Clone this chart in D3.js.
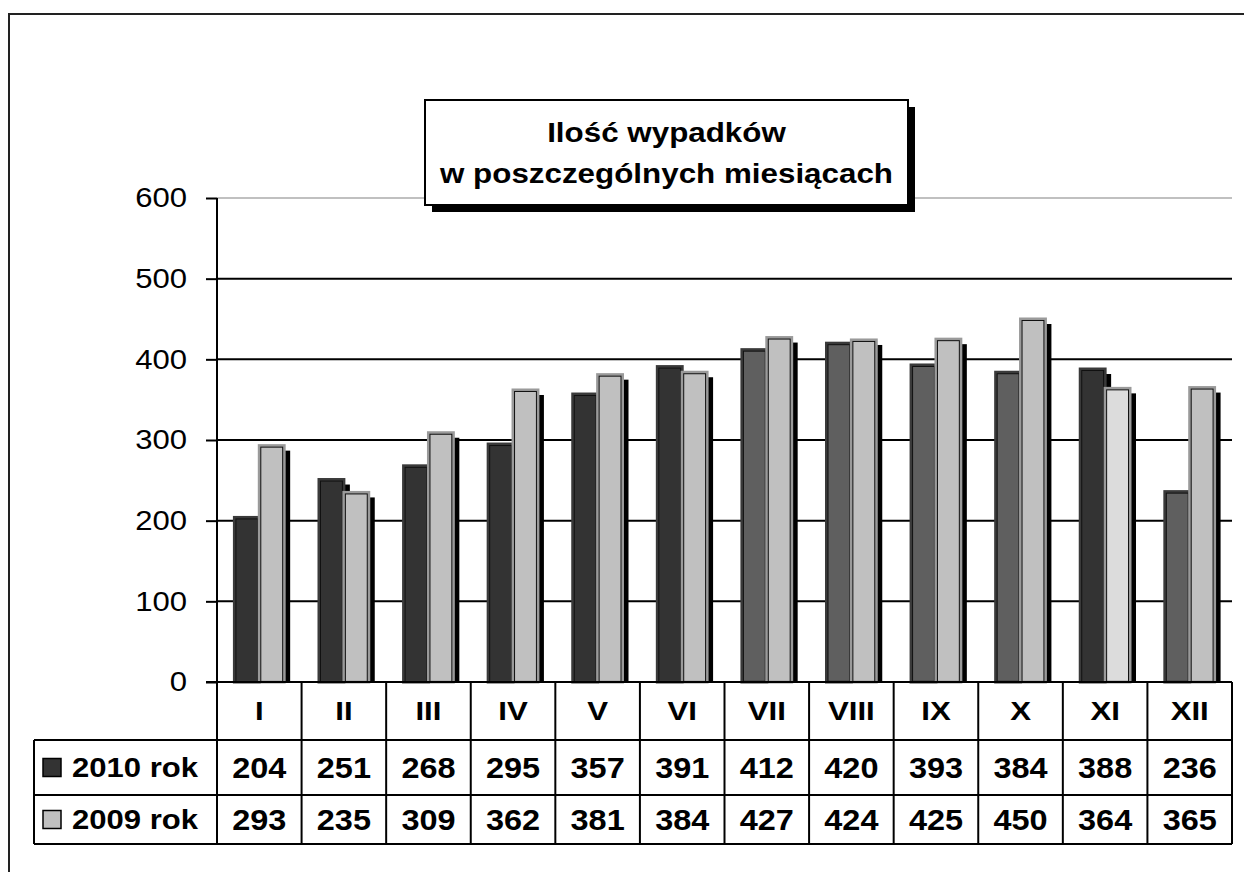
<!DOCTYPE html>
<html>
<head>
<meta charset="utf-8">
<script src="https://cdn.jsdelivr.net/npm/d3@7"></script>
<style>
  body { margin: 0; background: #fff; }
  svg { display: block; font-family: "Liberation Sans", Arial, sans-serif; }
</style>
</head>
<body>
<svg id="chart" width="1244" height="872"></svg>
<script>
// data
var months = ["I", "II", "III", "IV", "V", "VI", "VII", "VIII", "IX", "X", "XI", "XII"];
var seriesNames = ["2010 rok", "2009 rok"];
var values2010 = [204, 251, 268, 295, 357, 391, 412, 420, 393, 384, 388, 236];
var values2009 = [293, 235, 309, 362, 381, 384, 427, 424, 425, 450, 364, 365];
var yTicks = [0, 100, 200, 300, 400, 500, 600];
var titleLines = ["Ilość wypadków", "w poszczególnych miesiącach"];

// per point fills (the original uses a few odd shades)
var fill2010 = ["#333333", "#333333", "#333333", "#333333", "#333333", "#333333",
                "#5f5f5f", "#5f5f5f", "#5f5f5f", "#5f5f5f", "#333333", "#5f5f5f"];
var fill2009 = ["#c0c0c0", "#c0c0c0", "#c0c0c0", "#c0c0c0", "#c0c0c0", "#c0c0c0",
                "#c0c0c0", "#c0c0c0", "#c0c0c0", "#c0c0c0", "#dcdcdc", "#c0c0c0"];

var svg = d3.select("#chart");

var plotLeft = 217, plotRight = 1232, plotTop = 198, plotBottom = 682;
var rowH = [58, 55, 49];   // header row, 2010 row, 2009 row
var legendLeft = 34;

var x = d3.scaleBand().domain(months).range([plotLeft, plotRight]).padding(0);
var xs = d3.scaleBand().domain(seriesNames).range([0, x.bandwidth()])
    .paddingInner(0).paddingOuter(0.7);
var y = d3.scaleLinear().domain([0, 600]).range([plotBottom, plotTop]);

// the source picture is a bit stretched sideways, so text gets widened too
function wideText(g, px, py, sx) {
    return g.append("text")
        .attr("transform", "translate(" + px + "," + py + ") scale(" + sx + ",1)");
}

// outer chart border
svg.append("rect")
    .attr("x", 9).attr("y", 14)
    .attr("width", 1400).attr("height", 1000)
    .attr("fill", "none").attr("stroke", "#222").attr("stroke-width", 2);

// gridlines
svg.append("g").selectAll("line")
    .data(yTicks.filter(function(d) { return d > 0; }))
    .enter().append("line")
    .attr("x1", plotLeft).attr("x2", plotRight)
    .attr("y1", function(d) { return y(d); })
    .attr("y2", function(d) { return y(d); })
    .attr("stroke", function(d) { return d == 600 ? "#c0c0c0" : "#000"; })
    .attr("stroke-width", 2);

// y axis
var tickSx = 1.11;
var yAxis = d3.axisLeft(y).tickValues(yTicks).tickSize(11);
var gy = svg.append("g").attr("transform", "translate(" + plotLeft + ",0)").call(yAxis);
gy.select(".domain").attr("stroke", "#000").attr("stroke-width", 2)
    .attr("d", "M0," + plotTop + "V" + plotBottom);
gy.selectAll(".tick line").attr("stroke", "#000").attr("stroke-width", 2);
gy.selectAll(".tick text")
    .attr("x", -30 / tickSx)
    .attr("transform", "scale(" + tickSx + ",1)")
    .attr("font-size", 28).attr("fill", "#000")
    .attr("font-family", "Liberation Sans, Arial, sans-serif");

// bars with drop shadow
var shadowDx = 6, shadowDy = 5;
function drawSeries(name, vals, fills, edge) {
    var g = svg.append("g");
    var bw = xs.bandwidth();
    g.selectAll(".shadow").data(vals).enter().append("rect")
        .attr("x", function(d, i) { return x(months[i]) + xs(name) + shadowDx; })
        .attr("y", function(d) { return y(d) + shadowDy; })
        .attr("width", bw)
        .attr("height", function(d) { return plotBottom - y(d) - shadowDy; })
        .attr("fill", "#000");
    g.selectAll(".bar").data(vals).enter().append("rect")
        .attr("x", function(d, i) { return x(months[i]) + xs(name); })
        .attr("y", function(d) { return y(d); })
        .attr("width", bw)
        .attr("height", function(d) { return plotBottom - y(d); })
        .attr("fill", function(d, i) { return fills[i]; })
        .attr("stroke", edge).attr("stroke-width", 3);
    g.selectAll(".inner").data(vals).enter().append("rect")
        .attr("x", function(d, i) { return x(months[i]) + xs(name) + 1.5; })
        .attr("y", function(d) { return y(d) + 1.5; })
        .attr("width", bw - 3)
        .attr("height", function(d) { return plotBottom - y(d) - 1.5; })
        .attr("fill", "none")
        .attr("stroke", "#111").attr("stroke-width", 1);
}
drawSeries(seriesNames[0], values2010, fill2010, "#3a3a3a");
drawSeries(seriesNames[1], values2009, fill2009, "#9a9a9a");

// axis baseline on top of bars
svg.append("line")
    .attr("x1", plotLeft - 11).attr("x2", plotRight)
    .attr("y1", plotBottom).attr("y2", plotBottom)
    .attr("stroke", "#000").attr("stroke-width", 2);

// data table
var table = svg.append("g");
var rowTop = [plotBottom, plotBottom + rowH[0], plotBottom + rowH[0] + rowH[1]];
var tableBottom = rowTop[2] + rowH[2];

table.selectAll(".hline").data([rowTop[1], rowTop[2], tableBottom]).enter().append("line")
    .attr("x1", legendLeft).attr("x2", plotRight)
    .attr("y1", function(d) { return d; }).attr("y2", function(d) { return d; })
    .attr("stroke", "#000").attr("stroke-width", 2);

var bounds = months.map(function(m) { return x(m); }).concat([plotRight]);
table.selectAll(".vline").data(bounds).enter().append("line")
    .attr("x1", function(d) { return d; }).attr("x2", function(d) { return d; })
    .attr("y1", plotBottom).attr("y2", tableBottom)
    .attr("stroke", "#000").attr("stroke-width", 2);
table.append("line")
    .attr("x1", legendLeft).attr("x2", legendLeft)
    .attr("y1", rowTop[1]).attr("y2", tableBottom)
    .attr("stroke", "#000").attr("stroke-width", 2);

months.forEach(function(m) {
    wideText(table, x(m) + x.bandwidth() / 2, rowTop[0] + rowH[0] / 2, 1.2)
        .attr("dy", "0.36em")
        .attr("text-anchor", "middle")
        .attr("font-size", 26).attr("font-weight", "bold")
        .text(m);
});

[values2010, values2009].forEach(function(vals, r) {
    vals.forEach(function(v, i) {
        wideText(table, x(months[i]) + x.bandwidth() / 2, rowTop[r + 1] + rowH[r + 1] / 2, 1.12)
            .attr("dy", "0.36em")
            .attr("text-anchor", "middle")
            .attr("font-size", 29).attr("font-weight", "bold")
            .text(v);
    });
});

// legend keys in the table
var keyFill = ["#333333", "#c0c0c0"];
seriesNames.forEach(function(name, r) {
    var cy = rowTop[r + 1] + rowH[r + 1] / 2;
    table.append("rect")
        .attr("x", 43).attr("y", cy - 9)
        .attr("width", 18).attr("height", 18)
        .attr("fill", keyFill[r]).attr("stroke", "#000").attr("stroke-width", 1.5);
    wideText(table, 72, cy, 1.15)
        .attr("dy", "0.36em")
        .attr("font-size", 27).attr("font-weight", "bold")
        .text(name);
});

// title box with shadow
var tb = { x: 425, y: 100, w: 483, h: 105 };
svg.append("rect")
    .attr("x", tb.x + 7).attr("y", tb.y + 7).attr("width", tb.w).attr("height", tb.h)
    .attr("fill", "#000");
svg.append("rect")
    .attr("x", tb.x).attr("y", tb.y).attr("width", tb.w).attr("height", tb.h)
    .attr("fill", "#fff").attr("stroke", "#000").attr("stroke-width", 2);
titleLines.forEach(function(line, i) {
    wideText(svg, tb.x + tb.w / 2, tb.y + 42 + i * 41, 1.12)
        .attr("text-anchor", "middle")
        .attr("font-size", 28).attr("font-weight", "bold")
        .text(line);
});
</script>
</body>
</html>
